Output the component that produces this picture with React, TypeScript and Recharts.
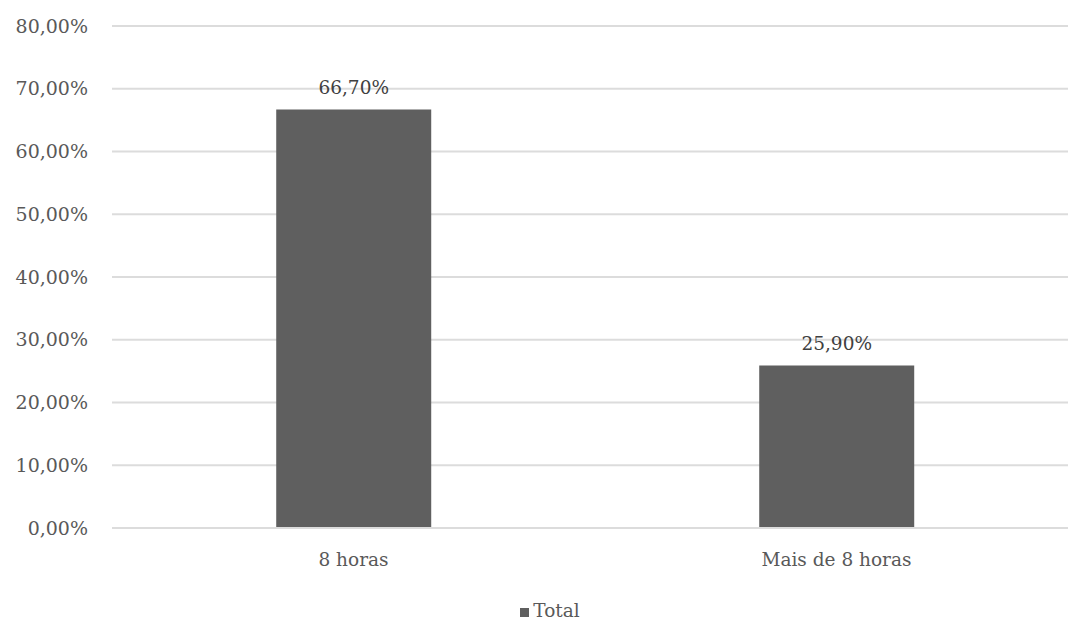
import { Bar, BarChart, CartesianGrid, LabelList, Legend, XAxis, YAxis } from "recharts";

const categories = ["8 horas", "Mais de 8 horas"];
const totals = [66.7, 25.9];
const yTicks = [0, 10, 20, 30, 40, 50, 60, 70, 80];

const rows = categories.map((name, i) => ({ name, Total: totals[i] }));

const pct = (v: number | string) => Number(v).toFixed(2).replace(".", ",") + "%";

const font = "'DejaVu Serif', serif";

export default function App() {
  return (
    <div
      style={{
        position: "fixed",
        left: 0,
        top: 0,
        width: 1068,
        height: 621,
        overflow: "hidden",
        background: "#fff",
        fontFamily: font,
      }}
    >
      <BarChart
        width={1090}
        height={621}
        data={rows}
        barCategoryGap="34%"
        margin={{ top: 26, right: 12, bottom: 0, left: 0 }}
      >
        <CartesianGrid vertical={false} stroke="#dcdcdc" strokeWidth={2} />
        <XAxis
          dataKey="name"
          axisLine={{ stroke: "#dcdcdc", strokeWidth: 2 }}
          tickLine={false}
          tickSize={0}
          tickMargin={25}
          height={72}
          tick={{ fill: "#595959", fontSize: 18.5, fontFamily: font }}
        />
        <YAxis
          domain={[0, 80]}
          ticks={yTicks}
          interval={0}
          tickFormatter={pct}
          axisLine={false}
          tickLine={false}
          tickSize={0}
          tickMargin={24}
          width={112}
          tick={{ fill: "#595959", fontSize: 19, fontFamily: font }}
        />
        <Legend
          verticalAlign="bottom"
          iconType="square"
          iconSize={9}
          wrapperStyle={{ left: 480, width: 150, fontSize: 18.5, fontFamily: font, color: "#595959" }}
          formatter={(v) => <span style={{ color: "#595959" }}>{v}</span>}
        />
        <Bar dataKey="Total" fill="#5f5f5f" isAnimationActive={false}>
          <LabelList
            dataKey="Total"
            position="top"
            offset={15}
            formatter={pct}
            style={{ fill: "#404040", fontSize: 18.5, fontFamily: font }}
          />
        </Bar>
      </BarChart>
    </div>
  );
}
